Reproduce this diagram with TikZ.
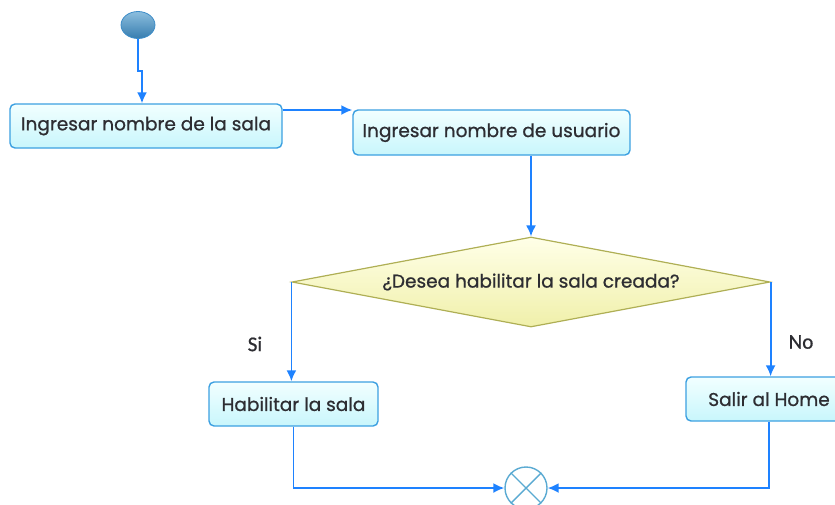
\documentclass[tikz,border=0pt]{standalone}
\usepackage{fontspec}
\setmainfont{Poppins}[FakeBold=0.8]
\newfontfamily\labelfont{Carlito}[FakeBold=0.8]
\usetikzlibrary{shapes.geometric,arrows.meta}
\definecolor{flow}{RGB}{30,130,255}
\definecolor{boxline}{RGB}{60,160,225}
\definecolor{boxtop}{RGB}{242,255,255}
\definecolor{boxbot}{RGB}{200,246,252}
\definecolor{decline}{RGB}{175,175,85}
\definecolor{dectop}{RGB}{255,255,232}
\definecolor{decbot}{RGB}{240,240,170}
\definecolor{inkgray}{RGB}{45,45,50}
\definecolor{starttop}{RGB}{140,190,222}
\definecolor{startbot}{RGB}{55,125,175}
\definecolor{startline}{RGB}{60,140,200}
\definecolor{mergeline}{RGB}{90,170,210}
\begin{document}
\begin{tikzpicture}[x=1pt,y=-1pt,
  actbox/.style={draw=boxline,line width=1.4pt,rounded corners=5pt,
    top color=boxtop,bottom color=boxbot,text=inkgray,
    font=\fontsize{18.5}{20}\selectfont,inner sep=0pt,anchor=center},
  decision/.style={diamond,aspect=5.31,draw=decline,line width=1.2pt,top color=dectop,
    bottom color=decbot,inner sep=0pt,minimum width=478pt,minimum height=90pt},
  flowarrow/.style={draw=flow,line width=1.8pt,
    -{Latex[length=11pt,width=10pt]}},
  branch/.style={text=inkgray,font=\labelfont\fontsize{21}{23}\selectfont}]
\useasboundingbox (0,0) rectangle (835,504);

% start node
\node (start) [ellipse,draw=startline,line width=0.8pt,
  top color=starttop,bottom color=startbot,
  minimum width=34pt,minimum height=27pt,inner sep=0pt] at (138,25) {};

% activities
\node (sala) [actbox,minimum width=272pt,minimum height=44pt] at (146,126)
  {Ingresar nombre de la sala};
\node (usuario) [actbox,minimum width=277pt,minimum height=45pt] at (491.5,132.5)
  {Ingresar nombre de usuario};
\node (q) [decision] at (531,282) {};
\node (qtext) [text=inkgray,font=\fontsize{18.5}{20}\selectfont] at (q.center)
  {¿Desea habilitar la sala creada?};
\node (habilitar) [actbox,minimum width=169pt,minimum height=44pt] at (293.5,404)
  {Habilitar la sala};
\node (home) [actbox,minimum width=166pt,minimum height=44pt] at (769,399)
  {Salir al Home};

% merge node
\node (merge) [circle,draw=mergeline,line width=1.4pt,fill=white,
  minimum size=42pt,inner sep=0pt] at (526,488) {};
\draw[mergeline,line width=1.4pt] (merge.north west) -- (merge.south east)
  (merge.north east) -- (merge.south west);

% connectors
\draw[flowarrow] (start.south) -- ++(0,32) -| ([xshift=-4pt]sala.north);
\draw[flowarrow] ([yshift=16pt]sala.east) -- ([yshift=16pt]sala.east -| usuario.west);
\draw[flowarrow] (usuario.south -| q.north) -- (q.north);
\draw[flowarrow] (q.west) -- (q.west |- habilitar.north);
\draw[flowarrow] (q.east) -- (q.east |- home.north);
\draw[flowarrow] (habilitar.south) |- (merge.west);
\draw[flowarrow] (home.south) |- (merge.east);

% branch labels
\node (si) [branch] at (255,344) {Si};
\node (no) [branch] at (801,342) {No};
\end{tikzpicture}
\end{document}
